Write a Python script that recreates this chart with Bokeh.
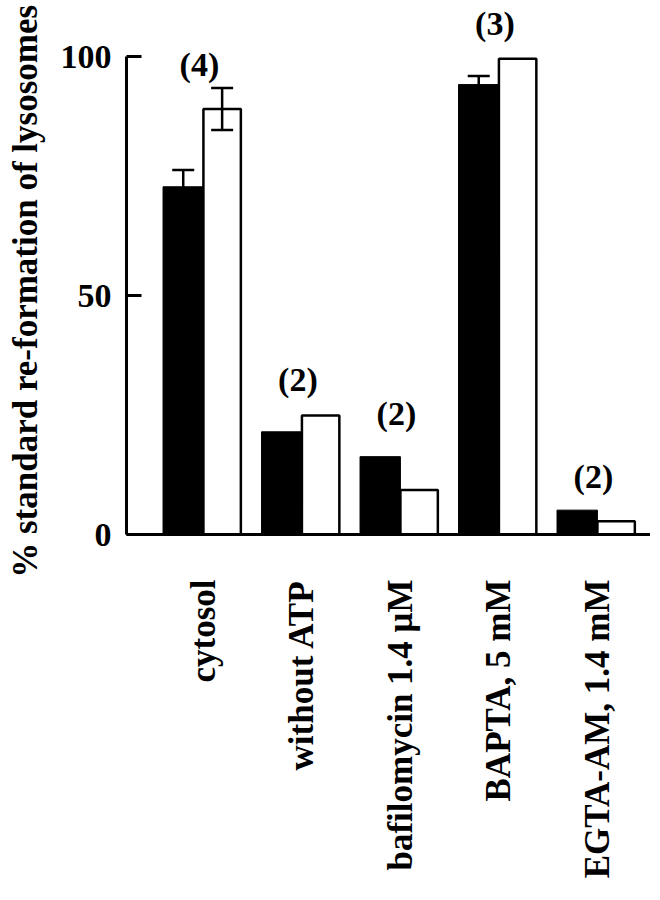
import math
from bokeh.plotting import figure
from bokeh.models import ColumnDataSource, Range1d, FixedTicker, Whisker, TeeHead
from bokeh.core.properties import value
from bokeh.embed import file_html
from bokeh.resources import INLINE

# ---- data ----
categories = ["cytosol", "without ATP", "bafilomycin 1.4 \u03bcM", "BAPTA, 5 mM", "EGTA-AM, 1.4 mM"]
black_values = [72.8, 21.5, 16.3, 94.2, 5.1]
white_values = [89.1, 24.9, 9.3, 99.6, 2.8]
black_errors = [3.5, 0, 0, 1.8, 0]
white_errors = [4.4, 0, 0, 0, 0]
n_labels = ["(4)", "(2)", "(2)", "(3)", "(2)"]
n_label_y = [98.3, 32.4, 25.3, 106.9, 12.1]
y_ticks = [0, 50, 100]
y_title = "% standard re-formation of lysosomes"

FONT = "Liberation Serif"
xs = list(range(len(categories)))
bw_black = 0.41
bw_white = 0.38

p = figure(width=650, height=884,
           x_range=Range1d(-0.781, 4.539), y_range=Range1d(0, 111.8),
           min_border_left=126, min_border_right=0, min_border_top=0, min_border_bottom=350,
           output_backend="svg", toolbar_location=None)
p.outline_line_color = None
p.xgrid.visible = False
p.ygrid.visible = False
p.background_fill_color = "white"
p.border_fill_color = "white"

p.vbar(x=[i - bw_black / 2 for i in xs], top=black_values, width=bw_black, bottom=0,
       fill_color="black", line_color="black", line_width=1)
p.vbar(x=[i + bw_white / 2 for i in xs], top=white_values, width=bw_white, bottom=0,
       fill_color="white", line_color="black", line_width=2.5)

def add_whiskers(values, errors, shift):
    bx, up, lo = [], [], []
    for i, (v, e) in enumerate(zip(values, errors)):
        if e > 0:
            bx.append(i + shift)
            up.append(v + e)
            lo.append(v - e)
    src = ColumnDataSource(dict(base=bx, upper=up, lower=lo))
    w = Whisker(source=src, base="base", upper="upper", lower="lower", dimension="height",
                line_color="black", line_width=2.5, level="overlay",
                upper_head=TeeHead(size=22, line_width=2.5, line_color="black"),
                lower_head=TeeHead(size=22, line_width=2.5, line_color="black"))
    p.add_layout(w)

add_whiskers(black_values, black_errors, -bw_black / 2)
add_whiskers(white_values, white_errors, bw_white / 2)

p.text(x=xs, y=n_label_y, text=n_labels, text_align="center", text_baseline="middle",
       text_font=value(FONT), text_font_style="bold", text_font_size="34px",
       text_color="black", x_offset=-4)

ya = p.yaxis[0]
ya.ticker = FixedTicker(ticks=y_ticks)
ya.bounds = (0, 100)
ya.major_tick_in = 15
ya.major_tick_out = 0
ya.minor_tick_line_color = None
ya.axis_line_width = 3
ya.major_tick_line_width = 3
ya.major_label_standoff = 15
ya.major_label_text_font = FONT
ya.major_label_text_font_style = "bold"
ya.major_label_text_font_size = "34px"
ya.major_label_text_color = "black"

xa = p.xaxis[0]
xa.ticker = FixedTicker(ticks=xs)
xa.major_label_overrides = {i: c for i, c in enumerate(categories)}
xa.major_label_orientation = math.pi / 2
xa.major_tick_in = 0
xa.major_tick_out = 0
xa.minor_tick_line_color = None
xa.major_tick_line_color = None
xa.axis_line_width = 3
xa.major_label_standoff = 45
xa.major_label_text_font = FONT
xa.major_label_text_font_style = "bold"
xa.major_label_text_font_size = "35px"
xa.major_label_text_color = "black"

# y-axis title: a text glyph drawn at overlay level (outside the frame)
p.text(x=[-1.806], y=[-9.06], text=[y_title], angle=math.pi / 2,
       text_align="left", text_baseline="alphabetic",
       text_font=value(FONT), text_font_style="bold", text_font_size="35px",
       text_color="black", level="overlay")

open("out.html", "w").write(file_html(p, INLINE))
